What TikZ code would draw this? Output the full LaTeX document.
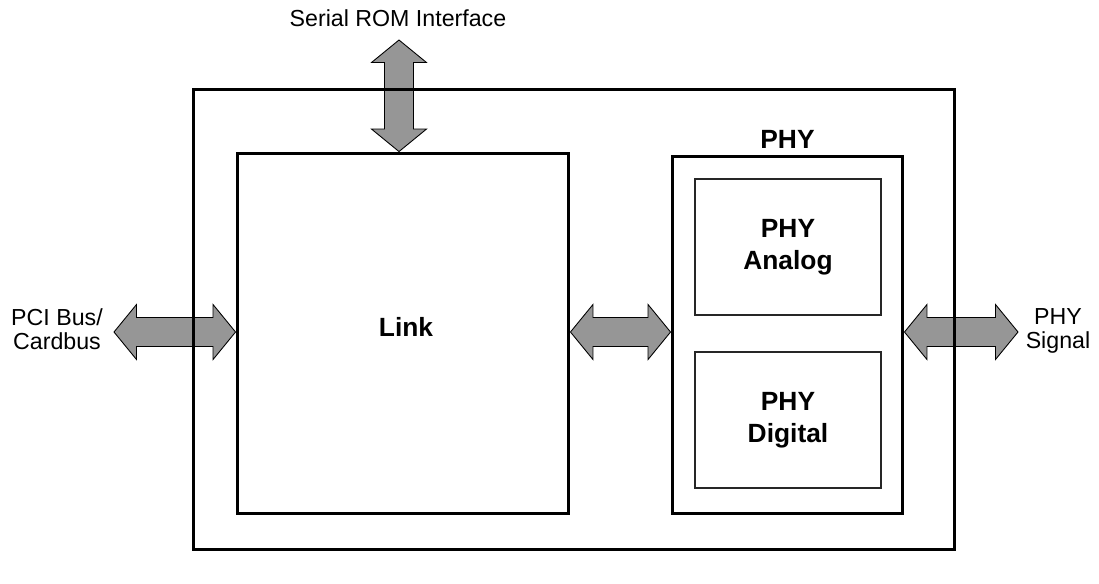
\documentclass[tikz,border=0pt]{standalone}
\usepackage{fontspec}
\setmainfont{Liberation Sans}
\usetikzlibrary{calc,positioning}
\definecolor{busgray}{RGB}{150,150,150}

\begin{document}
\begin{tikzpicture}[x=0.02cm,y=-0.02cm]
\tikzset{block/.style={draw, line width=1.7pt, inner sep=0pt, font=\fontsize{15}{18}\selectfont\bfseries},
  subblock/.style={draw=black!85, line width=0.7pt, inner sep=0pt, align=center, minimum width=3.72cm, minimum height=2.72cm, font=\fontsize{15}{18}\selectfont\bfseries},
  side/.style={align=center, font=\fontsize{13.2}{14}\selectfont},
  bus/.style={draw, line width=0.5pt, fill=busgray, to path={
    -- ($(\tikztostart)!0.45cm!(\tikztotarget)!0.55cm!90:(\tikztotarget)$)
    -- ($(\tikztostart)!0.45cm!(\tikztotarget)!0.29cm!90:(\tikztotarget)$)
    -- ($(\tikztotarget)!0.45cm!(\tikztostart)!0.29cm!-90:(\tikztostart)$)
    -- ($(\tikztotarget)!0.45cm!(\tikztostart)!0.55cm!-90:(\tikztostart)$)
    -- (\tikztotarget)
    -- ($(\tikztotarget)!0.45cm!(\tikztostart)!0.55cm!90:(\tikztostart)$)
    -- ($(\tikztotarget)!0.45cm!(\tikztostart)!0.29cm!90:(\tikztostart)$)
    -- ($(\tikztostart)!0.45cm!(\tikztotarget)!0.29cm!-90:(\tikztotarget)$)
    -- ($(\tikztostart)!0.45cm!(\tikztotarget)!0.55cm!-90:(\tikztotarget)$)
    -- cycle}}}
    \useasboundingbox (0,0) rectangle (1099,583);

    \node[block, minimum width=6.64cm, minimum height=7.22cm] at (403,333.5) (link) {};
    \node at (406,327) (linktext) [font=\fontsize{15}{18}\selectfont\bfseries] {Link};
    \node[block, minimum width=4.62cm, minimum height=7.16cm] at (787.5,335) (phy) [label={[font=\fontsize{15}{18}\selectfont\bfseries]above:PHY}] {};
    \node[subblock] at (788,247) (analog) {PHY\\Analog};
    \node[subblock] at (788,420) (digital) {PHY\\Digital};

    \node[side] at (398,18) (romtext) {Serial ROM Interface};
    \node[side] at (57,329) (pcitext) {PCI Bus/\\Cardbus};
    \node[side] at (1058,331) (sigtext) {PHY\\Signal};

    \coordinate (mid) at (0,332);
    \coordinate (rom) at (399,40);
    \coordinate (pci) at (114,332);
    \coordinate (sig) at (1018,332);

    % buses
    \draw[bus] (rom) to (rom |- link.north);
    \draw[bus] (pci) to (link.west |- mid);
    \draw[bus] (link.east |- mid) to (phy.west |- mid);
    \draw[bus] (phy.east |- mid) to (sig);

    % chip outline over the buses
    \node[block, minimum width=15.24cm, minimum height=9.22cm] at (574,319.5) (chip) {};
  \end{tikzpicture}
\end{document}
